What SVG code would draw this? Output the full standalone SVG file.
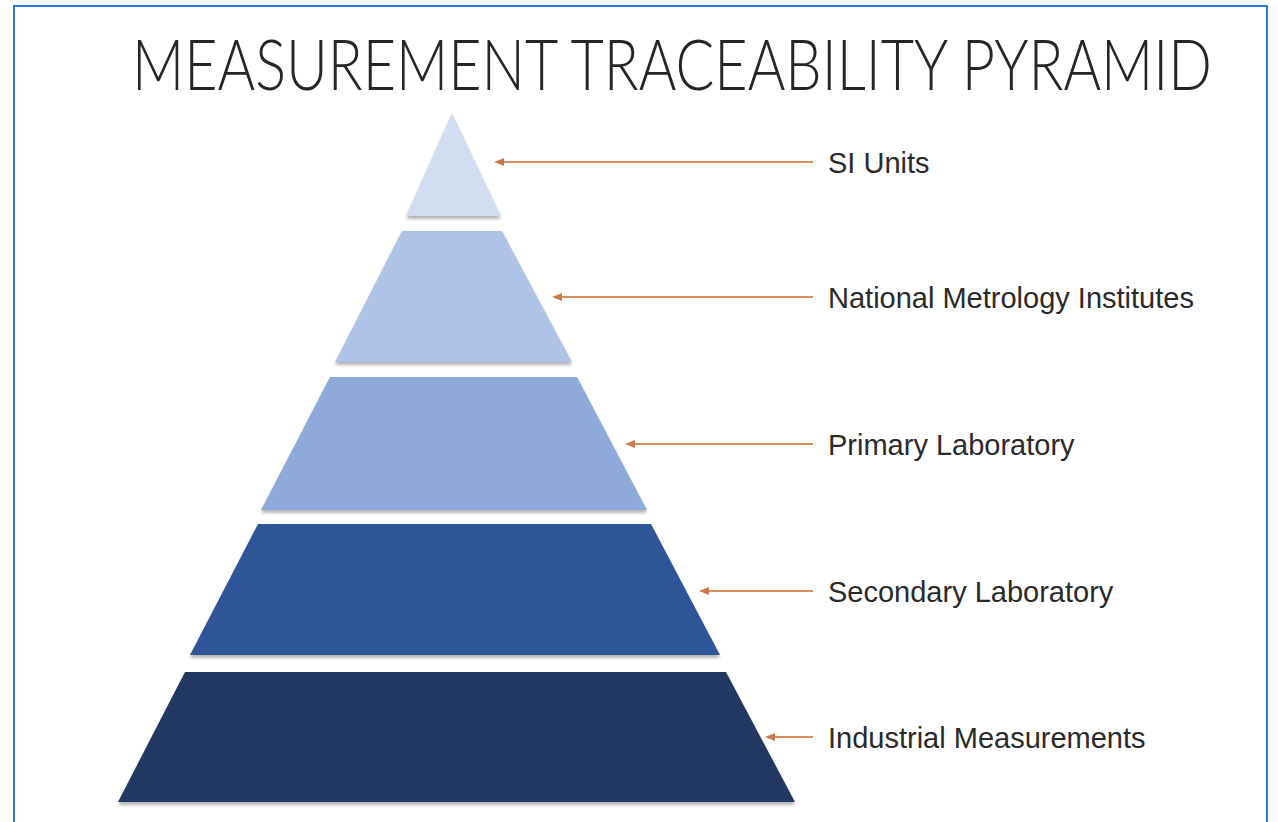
<svg xmlns="http://www.w3.org/2000/svg" width="1278" height="822" viewBox="0 0 1278 822">
<style>
.title{font-family:"Lato","Liberation Sans",sans-serif;font-weight:300;font-size:70px;fill:#262626}
.lbl{font-family:"Liberation Sans","Arial",sans-serif;font-size:29px;fill:#2a2a2a}
.conn{stroke:#d98c5c;stroke-width:2;fill:none;marker-end:url(#ah)}
.tier{filter:url(#sh)}
</style>
<defs>
<marker id="ah" markerUnits="userSpaceOnUse" markerWidth="10" markerHeight="8" refX="1" refY="4" orient="auto-start-reverse" viewBox="0 0 10 8">
<path d="M10,0 L0,4 L10,8 Z" fill="#c97a4a" transform="rotate(180 5 4)"/>
</marker>
<filter id="sh" x="-5%" y="-5%" width="110%" height="120%">
<feDropShadow dx="0" dy="3" stdDeviation="1.5" flood-color="#7a7a7a" flood-opacity="0.55"/>
</filter>
</defs>
<rect width="1278" height="822" fill="#ffffff"/>
<path d="M14,822 L14,6 L1267,6 L1267,822" fill="none" stroke="#2a7ad6" stroke-width="2"/>
<text class="title" x="132" y="90" textLength="1080" lengthAdjust="spacingAndGlyphs">MEASUREMENT TRACEABILITY PYRAMID</text>
<g id="tier-si" class="tier"><polygon points="452,113 501,216 406,216" fill="#d3ddf0"/></g>
<g id="tier-nmi" class="tier"><polygon points="402,231 502,231 572,362 335,362" fill="#afc3e6"/></g>
<g id="tier-primary" class="tier"><polygon points="330,377 577,377 647,510 261,510" fill="#8eaadb"/></g>
<g id="tier-secondary" class="tier"><polygon points="258,524 651,524 720,655 190,655" fill="#2f5597"/></g>
<g id="tier-industrial" class="tier"><polygon points="185,672 726,672 795,802 118,802" fill="#203864"/></g>
<g id="connectors">
<line class="conn" x1="813" y1="162" x2="503" y2="162"/>
<line class="conn" x1="813" y1="297" x2="561" y2="297"/>
<line class="conn" x1="813" y1="444" x2="634" y2="444"/>
<line class="conn" x1="813" y1="591" x2="708" y2="591"/>
<line class="conn" x1="813" y1="737" x2="774" y2="737"/>
</g>
<g id="label-si"><text class="lbl" x="828" y="173">SI Units</text></g>
<g id="label-nmi"><text class="lbl" x="828" y="308">National Metrology Institutes</text></g>
<g id="label-primary"><text class="lbl" x="828" y="455">Primary Laboratory</text></g>
<g id="label-secondary"><text class="lbl" x="828" y="602">Secondary Laboratory</text></g>
<g id="label-industrial"><text class="lbl" x="828" y="748">Industrial Measurements</text></g>
</svg>
